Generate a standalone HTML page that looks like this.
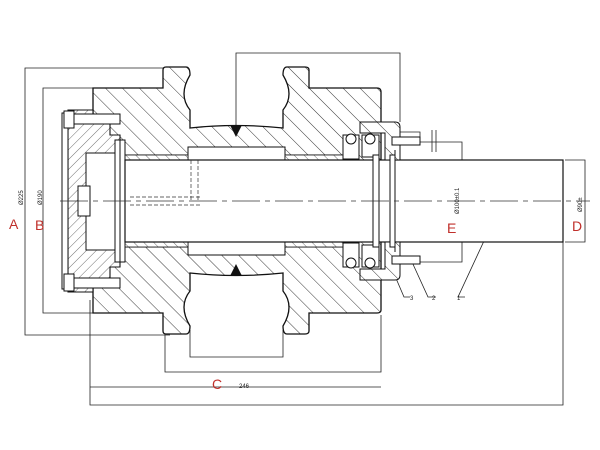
<!DOCTYPE html>
<html><head><style>html,body{margin:0;padding:0;background:#fff}svg{display:block}</style></head>
<body>
<svg width="600" height="450" viewBox="0 0 600 450" xmlns="http://www.w3.org/2000/svg">
<defs>
<pattern id="h" patternUnits="userSpaceOnUse" width="12" height="12" patternTransform="rotate(-45)">
<rect width="12" height="12" fill="#fff"/><line x1="0" y1="0" x2="0" y2="12" stroke="#222" stroke-width="0.9"/></pattern>
<pattern id="h2" patternUnits="userSpaceOnUse" width="7" height="7" patternTransform="rotate(45)">
<rect width="7" height="7" fill="#fff"/><line x1="0" y1="0" x2="0" y2="7" stroke="#333" stroke-width="0.7"/></pattern>
<pattern id="h3" patternUnits="userSpaceOnUse" width="7" height="7" patternTransform="rotate(-45)">
<rect width="7" height="7" fill="#fff"/><line x1="0" y1="0" x2="0" y2="7" stroke="#333" stroke-width="0.7"/></pattern>
</defs>
<g fill="none" stroke="#222" stroke-width="0.8">
<polyline points="170,68 25,68 25,335 170,335"/>
<polyline points="95,88 43,88 43,313 95,313"/>
<polyline points="236,125 236,53 400,53 400,122"/>
<polyline points="190,330 190,357 283,357 283,330"/>
<polyline points="165,335 165,372 381,372 381,315"/>
<polyline points="90,300 90,405 563,405 563,242"/>
<line x1="90" y1="387" x2="381" y2="387"/>
<polyline points="420,142 462,142 462,262 420,262"/>
<polyline points="565,160 585,160 585,242 565,242"/>
<polyline points="400,132 420,132 420,138"/>
<line x1="432" y1="130" x2="432" y2="152"/><line x1="436" y1="130" x2="436" y2="152"/>
<polyline points="386,255 404,297 410,297"/>
<polyline points="412,262 428,297 436,297"/>
<polyline points="490,228 458,297 465,297"/>
</g>
<path d="M93,88 L163,88 L163,70 Q163,67 166,67 L186,67 Q190,67 190,75 Q178,95 190,110 L190,128 Q236,123 283,128 L283,110 Q295,95 283,75 Q283,67 287,67 L305,67 Q309,67 309,70 L309,88 L377,88 Q381,88 381,92 L381,310 Q381,313 377,313 L309,313 L309,331 Q309,334 305,334 L287,334 Q283,334 283,326 Q295,306 283,291 L283,273 Q236,278 190,273 L190,291 Q178,306 190,326 Q190,334 186,334 L166,334 Q163,334 163,331 L163,313 L93,313 Z" fill="url(#h)" stroke="#111" stroke-width="1.3"/>
<rect x="115" y="155" width="230" height="92" fill="#fff" stroke="#111" stroke-width="1"/>
<rect x="188" y="147" width="97" height="13" fill="#fff" stroke="#111"/>
<rect x="188" y="242" width="97" height="13" fill="#fff" stroke="#111"/>
<rect x="125" y="155" width="63" height="5" fill="url(#h3)" stroke="#111" stroke-width="0.8"/>
<rect x="285" y="155" width="60" height="5" fill="url(#h3)" stroke="#111" stroke-width="0.8"/>
<rect x="125" y="242" width="63" height="5" fill="url(#h3)" stroke="#111" stroke-width="0.8"/>
<rect x="285" y="242" width="60" height="5" fill="url(#h3)" stroke="#111" stroke-width="0.8"/>
<path d="M230,125 L242,125 L236,137 Z" fill="#111"/>
<path d="M230,276 L242,276 L236,264 Z" fill="#111"/>
<path d="M68,110 L93,110 L93,123 L110,123 L110,135 L120,135 L120,267 L110,267 L110,279 L93,279 L93,292 L68,292 Z" fill="url(#h2)" stroke="#111" stroke-width="1.1"/>
<rect x="86" y="153" width="30" height="97" fill="#fff" stroke="#111"/>
<rect x="78" y="186" width="12" height="30" fill="#fff" stroke="#111"/>
<rect x="62" y="113" width="6" height="176" fill="#fff" stroke="#111"/>
<rect x="64" y="111" width="10" height="17" fill="#fff" stroke="#111"/>
<rect x="64" y="274" width="10" height="17" fill="#fff" stroke="#111"/>
<rect x="74" y="114" width="46" height="10" fill="#fff" stroke="#111"/>
<rect x="74" y="278" width="46" height="10" fill="#fff" stroke="#111"/>
<rect x="115" y="140" width="10" height="122" fill="#fff" stroke="#111"/>
<line x1="120" y1="140" x2="120" y2="262" stroke="#111"/>
<rect x="125" y="160" width="438" height="82" fill="#fff" stroke="#111" stroke-width="1.2"/>
<g stroke="#333" stroke-width="0.7" stroke-dasharray="4,2" fill="none">
<line x1="191" y1="160" x2="191" y2="200"/><line x1="198" y1="160" x2="198" y2="200"/>
<line x1="130" y1="197" x2="202" y2="197"/><line x1="130" y1="205" x2="202" y2="205"/>
</g>
<path d="M360,122 L395,122 Q400,122 400,127 L400,160 L385,160 L385,133 L360,133 Z" fill="url(#h)" stroke="#111"/>
<path d="M360,280 L395,280 Q400,280 400,275 L400,242 L385,242 L385,269 L360,269 Z" fill="url(#h)" stroke="#111"/>
<g fill="#fff" stroke="#111">
<rect x="343" y="135" width="16" height="24"/><rect x="362" y="135" width="17" height="22"/>
<rect x="343" y="243" width="16" height="24"/><rect x="362" y="245" width="17" height="22"/>
<circle cx="351" cy="139" r="5"/><circle cx="370" cy="139" r="5"/>
<circle cx="351" cy="263" r="5"/><circle cx="370" cy="263" r="5"/>
<rect x="373" y="155" width="6" height="92"/><rect x="390" y="155" width="5" height="92"/>
<rect x="392" y="137" width="28" height="8"/><rect x="392" y="256" width="28" height="8"/>
</g>
<line x1="395" y1="150" x2="395" y2="252" stroke="#111"/>
<line x1="60" y1="201" x2="590" y2="201" stroke="#333" stroke-width="0.7" stroke-dasharray="28,5,5,5"/>
<g font-family="Liberation Sans, sans-serif" font-size="6" fill="#222">
<text x="239" y="388">246</text>
<text x="410" y="300">3</text><text x="432" y="300">2</text><text x="457" y="300">1</text>
<text transform="translate(23,205) rotate(-90)">Ø225</text>
<text transform="translate(42,205) rotate(-90)">Ø190</text>
<text transform="translate(459,214) rotate(-90)">Ø100±0.1</text>
<text transform="translate(582,212) rotate(-90)">Ø90±</text>
</g>
<g font-family="Liberation Sans, sans-serif" font-size="14" fill="#c0302b">
<text x="9" y="229">A</text><text x="35" y="230">B</text><text x="212" y="389">C</text>
<text x="572" y="231">D</text><text x="447" y="233">E</text>
</g>
</svg>
</body></html>
